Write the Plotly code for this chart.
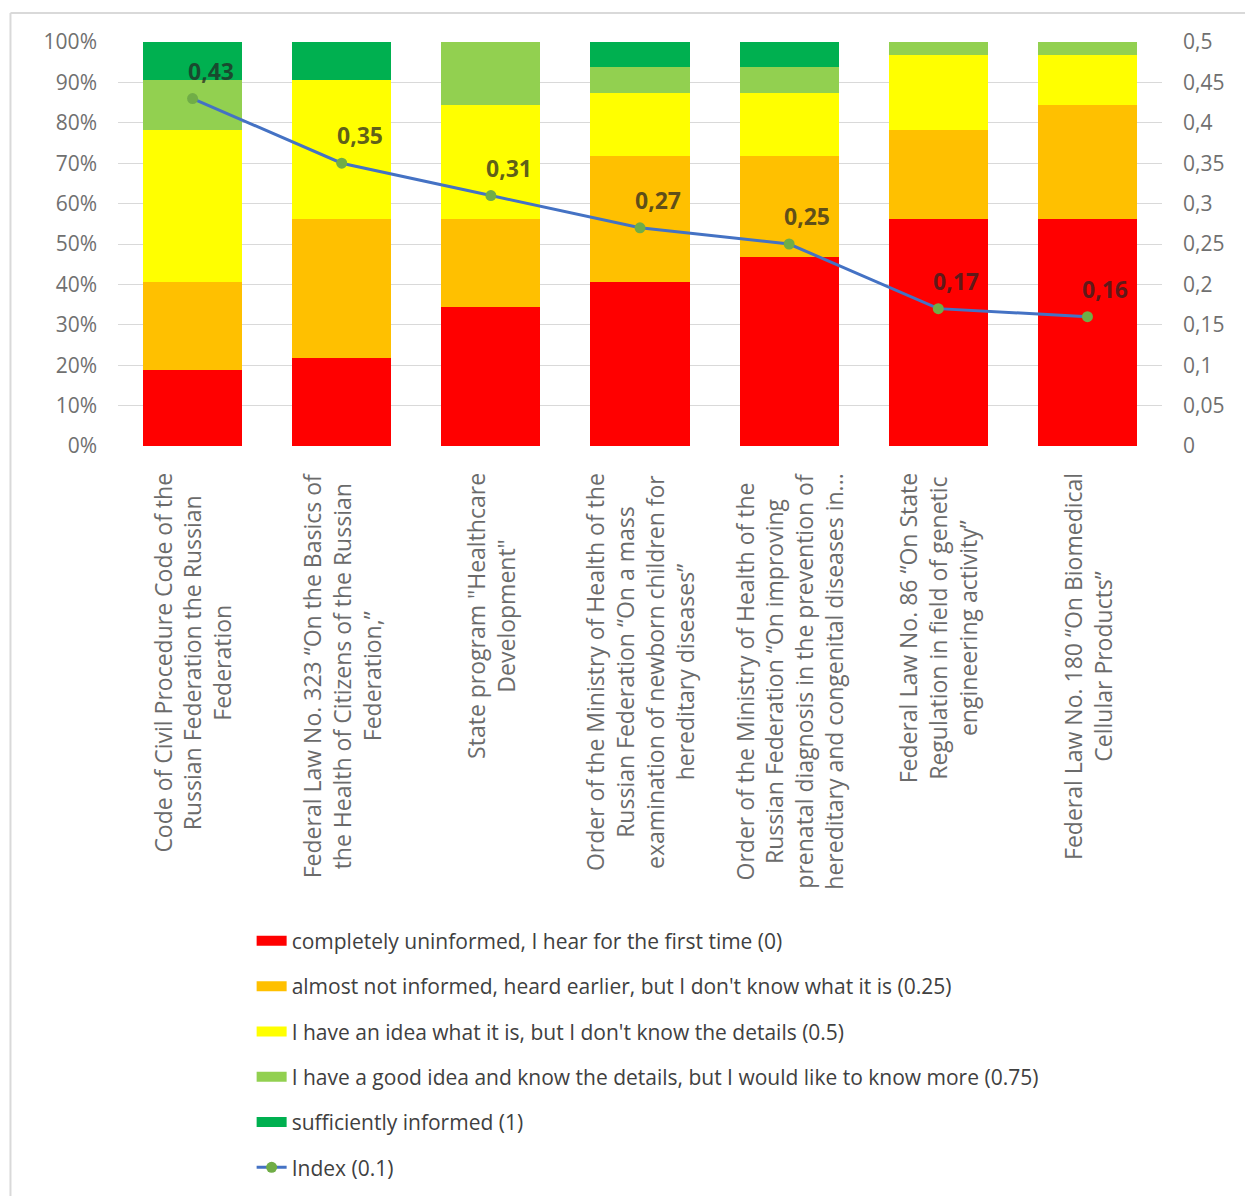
import plotly.graph_objects as go

# Awareness of legal acts: share of answers (percent) and resulting index
categories = [
    "Code of Civil Procedure Code of the<br>Russian Federation the Russian<br>Federation",
    "Federal Law No. 323 “On the Basics of<br>the Health of Citizens of the Russian<br>Federation,”",
    "State program \"Healthcare<br>Development\"",
    "Order of the Ministry of Health of the<br>Russian Federation “On a mass<br>examination of newborn children for<br>hereditary diseases”",
    "Order of the Ministry of Health of the<br>Russian Federation “On improving<br>prenatal diagnosis in the prevention of<br>hereditary and congenital diseases in...",
    "Federal Law No. 86 “On State<br>Regulation in field of genetic<br>engineering activity”",
    "Federal Law No. 180 “On Biomedical<br>Cellular Products”",
]

uninformed = [18.75, 21.875, 34.375, 40.625, 46.875, 56.25, 56.25]
almost_not = [21.875, 34.375, 21.875, 31.25, 25.0, 21.875, 28.125]
have_idea = [37.5, 34.375, 28.125, 15.625, 15.625, 18.75, 12.5]
good_idea = [12.5, 0.0, 15.625, 6.25, 6.25, 3.125, 3.125]
sufficient = [9.375, 9.375, 0.0, 6.25, 6.25, 0.0, 0.0]
index_values = [0.43, 0.35, 0.31, 0.27, 0.25, 0.17, 0.16]

series = [
    ("completely uninformed, I hear for the first time (0)", uninformed, "#FF0000"),
    ("almost not informed, heard earlier, but I don't know what it is (0.25)", almost_not, "#FFC000"),
    ("I have an idea what it is, but I don't know the details (0.5)", have_idea, "#FFFF00"),
    ("I have a good idea and know the details, but I would like to know more (0.75)", good_idea, "#92D050"),
    ("sufficiently informed (1)", sufficient, "#00B050"),
]

x_pos = list(range(len(categories)))

fig = go.Figure()
for i, (name, vals, color) in enumerate(series):
    fig.add_trace(go.Bar(
        x=x_pos, y=vals, name=name, marker=dict(color=color, line=dict(width=0)),
        legendgroup=f"g{i}", showlegend=False, hoverinfo="y+name",
    ))
    # wide swatch for the legend entry of this answer option
    fig.add_trace(go.Scatter(
        x=[None], y=[None], name=name, mode="lines",
        line=dict(color=color, width=12), legendgroup=f"g{i}", showlegend=True,
    ))

fig.add_trace(go.Scatter(
    x=x_pos, y=index_values, name="Index (0.1)", yaxis="y2", mode="lines+markers",
    line=dict(color="#4472C4", width=3),
    marker=dict(color="#70AD47", size=11),
    legendgroup="g5",
))

annotations = []
for xi, v in zip(x_pos, index_values):
    annotations.append(dict(
        x=xi, y=v, xref="x", yref="y2", text=f"{v:.2f}".replace(".", ","),
        showarrow=False, xshift=18, yshift=28,
        font=dict(family="Open Sans", size=23, color="rgba(35,35,35,0.72)", weight="bold"),
    ))
for xi, label in zip(x_pos, categories):
    annotations.append(dict(
        x=xi, y=-0.062, xref="x", yref="paper", text=label, textangle=-90,
        showarrow=False, xanchor="center", yanchor="top", align="center",
        font=dict(family="Open Sans", size=23, color="#6b6b6b"),
    ))

# frame around the chart area
frame_color = "#d9d9d9"
shapes = [
    dict(type="line", xref="paper", yref="paper", x0=-0.103, x1=1.2, y0=1.072, y1=1.072,
         line=dict(color=frame_color, width=2)),
    dict(type="line", xref="paper", yref="paper", x0=-0.103, x1=-0.103, y0=1.072, y1=-2.0,
         line=dict(color=frame_color, width=2)),
]

tick_font = dict(family="Open Sans", size=21, color="#707070")

fig.update_layout(
    width=1245, height=1196,
    margin=dict(l=117.5, r=83, t=42, b=750, autoexpand=False),
    paper_bgcolor="white", plot_bgcolor="white",
    barmode="stack", bargap=0.336,
    separators=",.",
    annotations=annotations, shapes=shapes,
    xaxis=dict(tickvals=x_pos, showticklabels=False, range=[-0.5, len(categories) - 0.5],
               showgrid=False, zeroline=False, showline=False),
    yaxis=dict(range=[0, 100], dtick=10, ticksuffix="%", showgrid=True, gridcolor="#d9d9d9",
               gridwidth=1, zeroline=False, showline=False, ticklabelstandoff=20,
               tickfont=tick_font),
    yaxis2=dict(range=[0, 0.5], dtick=0.05, overlaying="y", side="right", showgrid=False,
                zeroline=False, showline=False, ticklabelstandoff=20,
                tickfont=tick_font),
    legend=dict(x=0.128, y=-1.175, xanchor="left", yanchor="top", orientation="v",
                tracegroupgap=15, traceorder="grouped",
                font=dict(family="Open Sans", size=21, color="#404040")),
    showlegend=True,
)

fig.write_html("out.html")
